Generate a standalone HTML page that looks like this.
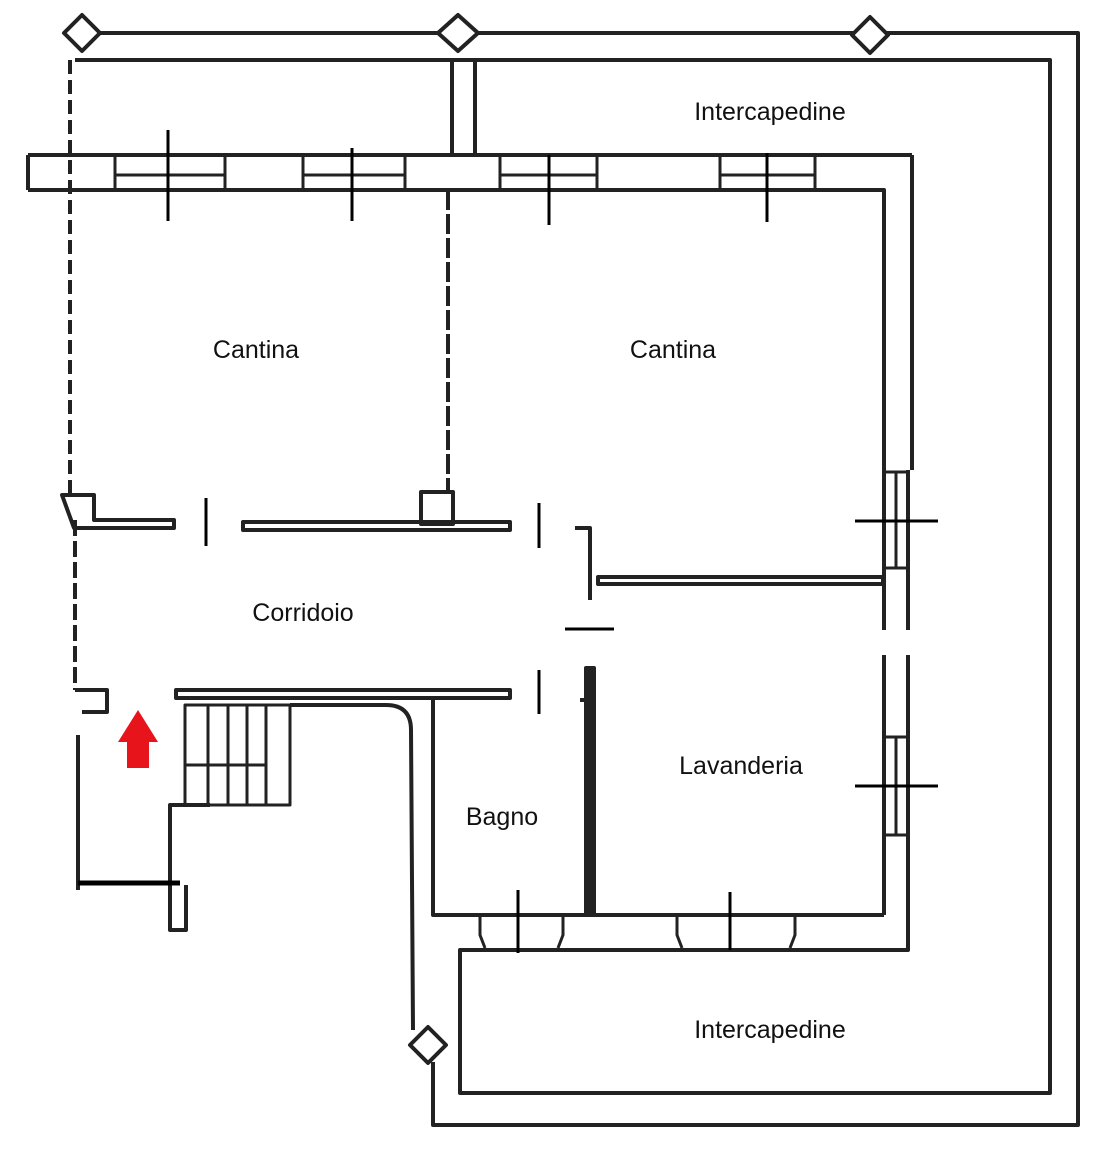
<!DOCTYPE html>
<html><head><meta charset="utf-8"><style>
html,body{margin:0;padding:0;background:#fff;width:1095px;height:1154px;overflow:hidden}
svg{display:block}
text{font-family:"Liberation Sans","DejaVu Sans",sans-serif;font-size:25px;fill:#111}
</style></head><body>
<svg width="1095" height="1154" viewBox="0 0 1095 1154" xmlns="http://www.w3.org/2000/svg">
<g fill="none" stroke="#222" stroke-width="4" stroke-linejoin="round">
<!-- outer perimeter line -->
<polyline points="100,33 1078,33 1078,1125 433,1125 433,1062"/>
<path d="M413,1030 L411,730 Q411,705 386,705 L290,705"/>
<!-- second line -->
<polyline points="75,60 1050,60 1050,1093 460,1093 460,950 908,950 908,655"/>
<polyline points="912,155 912,470"/>
<!-- diamonds -->
<polygon points="82,15 100,33 82,51 64,33" fill="#fff"/>
<polygon points="458,15 478,33 458,51 438,33" fill="#fff"/>
<polygon points="870,17 888,35 870,53 852,35" fill="#fff"/>
<polygon points="428,1027 446,1045 428,1063 410,1045" fill="#fff"/>
<!-- chimney -->
<line x1="452" y1="60" x2="452" y2="155"/><line x1="475" y1="60" x2="475" y2="155"/>
<!-- top wall band -->
<polyline points="28,155 912,155"/>
<polyline points="28,190 884,190 884,630"/>
<line x1="28" y1="155" x2="28" y2="190"/>
<!-- window blocks top -->
<g stroke-width="3">
<line x1="115" y1="155" x2="115" y2="190"/><line x1="225" y1="155" x2="225" y2="190"/><line x1="115" y1="175" x2="225" y2="175"/>
<line x1="303" y1="155" x2="303" y2="190"/><line x1="405" y1="155" x2="405" y2="190"/><line x1="303" y1="175" x2="405" y2="175"/>
<line x1="500" y1="155" x2="500" y2="190"/><line x1="597" y1="155" x2="597" y2="190"/><line x1="500" y1="175" x2="597" y2="175"/>
<line x1="720" y1="155" x2="720" y2="190"/><line x1="815" y1="155" x2="815" y2="190"/><line x1="720" y1="175" x2="815" y2="175"/>
</g>
<!-- left dashed wall -->
<line x1="70" y1="60" x2="70" y2="500" stroke-dasharray="14,6"/>
<line x1="75" y1="520" x2="75" y2="690" stroke-dasharray="16,5"/>
<!-- partition between cantinas -->
<line x1="448" y1="190" x2="448" y2="490" stroke-dasharray="20,4"/>
<rect x="421" y="492" width="32" height="32"/>
<!-- corridor top wall -->
<path d="M62,495 h32 v25 h80 v8 h-100 z"/>
<rect x="243" y="522" width="267" height="8"/>
<!-- right cantina lower wall -->
<polyline points="575,528 590,528 590,600"/>
<rect x="598" y="577" width="285" height="7"/>
<!-- right double wall -->
<line x1="908" y1="470" x2="908" y2="630"/>
<line x1="884" y1="655" x2="884" y2="915"/>
<g stroke-width="3">
<line x1="884" y1="472" x2="908" y2="472"/><line x1="884" y1="568" x2="908" y2="568"/><line x1="896" y1="472" x2="896" y2="568"/>
<line x1="884" y1="737" x2="908" y2="737"/><line x1="884" y1="835" x2="908" y2="835"/><line x1="896" y1="737" x2="896" y2="835"/>
</g>
<!-- corridor bottom wall -->
<path d="M75,690 h32 v22 h-25"/>
<path d="M176,690 h334 v8 h-334 z"/>
<!-- bagno/lavanderia -->
<polyline points="433,698 433,915 884,915"/>
<rect x="586" y="668" width="8" height="247" fill="#222"/>
<polyline points="580,700 590,700"/>
<!-- window blocks bottom -->
<g stroke-width="3">
<path d="M480,915 v20 l5,13"/><path d="M563,915 v20 l-5,13"/>
<path d="M677,915 v20 l5,13"/><path d="M795,915 v20 l-5,13"/>
</g>
<!-- stairs -->
<g stroke-width="3">
<rect x="185" y="705" width="105" height="100"/>
<line x1="208" y1="705" x2="208" y2="805"/><line x1="228" y1="705" x2="228" y2="805"/>
<line x1="247" y1="705" x2="247" y2="805"/><line x1="266" y1="705" x2="266" y2="805"/>
<line x1="185" y1="765" x2="266" y2="765"/>
</g>
<!-- lower left -->
<polyline points="78,735 78,890"/>
<polyline points="210,805 170,805 170,930 186,930 186,885"/>
</g>
<!-- black ticks -->
<g stroke="#000" stroke-width="3">
<line x1="168" y1="130" x2="168" y2="221"/><line x1="352" y1="148" x2="352" y2="221"/>
<line x1="549" y1="155" x2="549" y2="225"/><line x1="767" y1="153" x2="767" y2="222"/>
<line x1="206" y1="498" x2="206" y2="546"/><line x1="539" y1="503" x2="539" y2="548"/>
<line x1="539" y1="670" x2="539" y2="714"/><line x1="565" y1="629" x2="614" y2="629"/>
<line x1="855" y1="521" x2="938" y2="521"/><line x1="855" y1="786" x2="938" y2="786"/>
<line x1="518" y1="890" x2="518" y2="953"/><line x1="730" y1="892" x2="730" y2="950"/>
<line x1="78" y1="883" x2="180" y2="883" stroke-width="5"/>
</g>
<!-- red arrow -->
<polygon points="138,710 158,742 149,742 149,768 127,768 127,742 118,742" fill="#e8141c"/>
<text x="770" y="120" text-anchor="middle">Intercapedine</text>
<text x="256" y="358" text-anchor="middle">Cantina</text>
<text x="673" y="358" text-anchor="middle">Cantina</text>
<text x="303" y="621" text-anchor="middle">Corridoio</text>
<text x="502" y="825" text-anchor="middle">Bagno</text>
<text x="741" y="774" text-anchor="middle">Lavanderia</text>
<text x="770" y="1038" text-anchor="middle">Intercapedine</text>
</svg>
</body></html>
